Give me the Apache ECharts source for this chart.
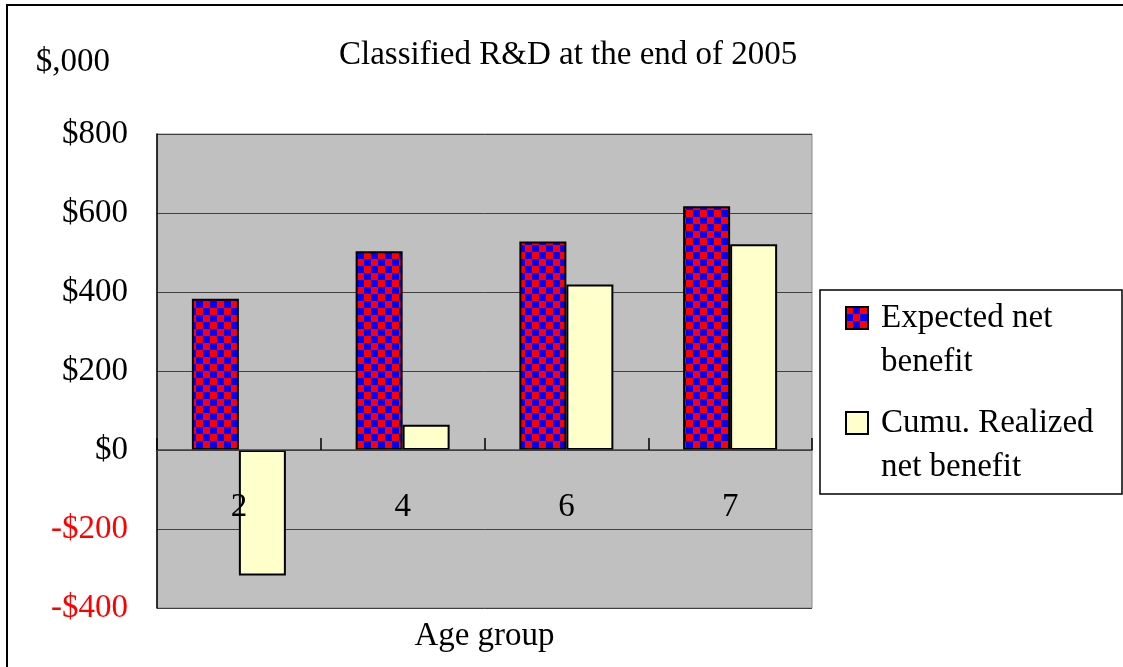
<!DOCTYPE html>
<html>
<head>
<meta charset="utf-8">
<script src="https://cdn.jsdelivr.net/npm/echarts@6/dist/echarts.min.js"></script>
<style>
  html, body { margin: 0; padding: 0; background: #fff; }
  #main { width: 1123px; height: 667px; }
</style>
</head>
<body>
<div id="main"></div>
<script>
// data ($,000)
const ageGroups = ['2', '4', '6', '7'];
const expectedNet = [383, 503, 528, 617];
const realizedNet = [-318, 64, 419, 521];
const seriesNames = ['Expected net\nbenefit', 'Cumu. Realized\nnet benefit'];

// red / blue checker fill
function checker() {
  const c = document.createElement('canvas');
  const s = 7;
  c.width = s * 2; c.height = s * 2;
  const ctx = c.getContext('2d');
  ctx.fillStyle = '#ff0000';
  ctx.fillRect(0, 0, s * 2, s * 2);
  ctx.fillStyle = '#0000ff';
  ctx.fillRect(s, 0, s, s);
  ctx.fillRect(0, s, s, s);
  return c;
}

const serif = 'Liberation Serif, Times New Roman, serif';
const fs = 33;
const chart = echarts.init(document.getElementById('main'));

chart.setOption({
  backgroundColor: '#fff',
  animation: false,
  title: {
    text: 'Classified R&D at the end of 2005',
    left: 334,
    top: 34,
    textStyle: { fontFamily: serif, fontSize: fs, fontWeight: 'normal', color: '#000' }
  },
  graphic: [
    { type: 'rect', z: -10, shape: { x: 7, y: 5, width: 1300, height: 900 },
      style: { fill: 'none', stroke: '#000', lineWidth: 2 } },
    { type: 'rect', z: 0, shape: { x: 820, y: 290, width: 302, height: 204 },
      style: { fill: '#fff', stroke: '#000', lineWidth: 1.5 } }
  ],
  legend: {
    orient: 'vertical',
    left: 845,
    top: 252,
    padding: 0,
    itemWidth: 22,
    itemHeight: 22,
    itemGap: -27,
    icon: 'rect',
    data: seriesNames,
    formatter: name => '\n' + name,
    textStyle: {
      fontFamily: serif, fontSize: fs, color: '#000',
      lineHeight: 44, padding: [0, 0, 0, 8]
    }
  },
  grid: {
    left: 157, right: 311, top: 134, bottom: 59,
    containLabel: false, outerBoundsMode: 'none',
    show: true, backgroundColor: '#c0c0c0', borderColor: '#888', borderWidth: 1
  },
  xAxis: {
    type: 'category',
    z: 5,
    data: ageGroups,
    name: 'Age group',
    nameLocation: 'middle',
    nameGap: 12,
    nameTextStyle: { fontFamily: serif, fontSize: fs, color: '#000' },
    axisLine: { onZero: true, lineStyle: { color: '#404040', width: 1.5 } },
    axisTick: { show: true, inside: true, length: 12, lineStyle: { color: '#000', width: 1.5 } },
    axisLabel: { margin: -117, fontFamily: serif, fontSize: fs, color: '#000' }
  },
  yAxis: {
    type: 'value',
    min: -400,
    max: 800,
    interval: 200,
    name: '$,000',
    nameLocation: 'end',
    nameGap: 72,
    nameTextStyle: {
      fontFamily: serif, fontSize: fs, color: '#000',
      align: 'right', verticalAlign: 'middle', padding: [0, 47, 0, 0]
    },
    axisLine: { show: true, lineStyle: { color: '#000', width: 1.5 } },
    axisTick: { show: false },
    splitLine: { show: true, lineStyle: { color: '#404040', width: 1 } },
    axisLabel: {
      margin: 29,
      fontFamily: serif,
      fontSize: fs,
      color: v => (v < 0 ? '#ff0000' : '#000'),
      formatter: v => (v < 0 ? '-$' + Math.abs(v) : '$' + v)
    }
  },
  series: [
    {
      name: seriesNames[0],
      type: 'bar',
      data: expectedNet,
      barWidth: 47,
      barGap: '0%',
      itemStyle: { color: { image: checker(), repeat: 'repeat' }, borderColor: '#000', borderWidth: 2 }
    },
    {
      name: seriesNames[1],
      type: 'bar',
      data: realizedNet,
      barWidth: 47,
      barGap: '0%',
      itemStyle: { color: '#ffffcc', borderColor: '#000', borderWidth: 2 }
    }
  ]
});
</script>
</body>
</html>
